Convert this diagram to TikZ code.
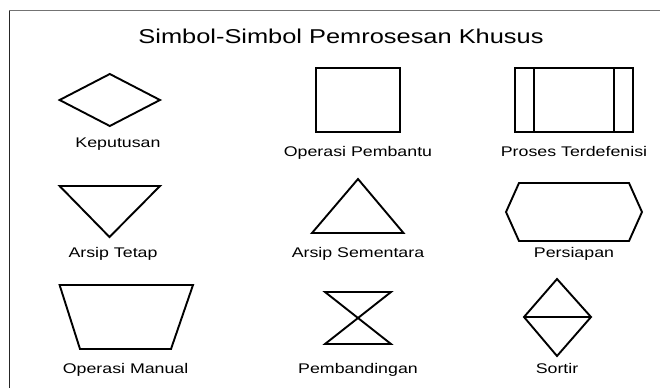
\documentclass[tikz,border=0pt]{standalone}
\usepackage{fontspec}
\setmainfont[FakeStretch=1.27]{Liberation Sans}
\begin{document}
\begin{tikzpicture}[x=1pt,y=-1pt,
  sym/.style={draw=black,line width=1.9pt,line join=miter},
  lbl/.style={anchor=base,inner sep=0pt,font=\fontsize{14}{16}\selectfont},
  ttl/.style={anchor=base,inner sep=0pt,font=\fontsize{20}{22}\selectfont},
  frmtop/.style={draw=black!55,line width=1pt},
  frmleft/.style={draw=black!85,line width=1pt}]
\useasboundingbox (0,0) rectangle (660,388);
% frame
\draw[frmleft] (9,388) -- (9,10);
\draw[frmtop] (9,10) -- (660,10);
% title
\node[ttl] (title) at (341,43) {Simbol-Simbol Pemrosesan Khusus};
% row 1
\draw[sym] (59.6,100) -- (109.8,74) -- (160,100) -- (109.8,126) -- cycle;
\node[lbl] (keputusan) at (118,147) {Keputusan};
\draw[sym] (316,68) rectangle (400,132);
\node[lbl] (opb) at (358,156) {Operasi Pembantu};
\draw[sym] (515,68) rectangle (633,132);
\draw[sym] (534,68) -- (534,132);
\draw[sym] (614,68) -- (614,132);
\node[lbl] (proses) at (574,156) {Proses Terdefenisi};
% row 2
\draw[sym] (59.6,186) -- (160,186) -- (109.5,237) -- cycle;
\node[lbl] (tetap) at (113,257) {Arsip Tetap};
\draw[sym] (358,179) -- (403.5,233) -- (312,233) -- cycle;
\node[lbl] (sementara) at (358,257) {Arsip Sementara};
\draw[sym] (519,183) -- (629,183) -- (642,212) -- (629,241) -- (519,241) -- (506,212) -- cycle;
\node[lbl] (persiapan) at (574,257) {Persiapan};
% row 3
\draw[sym] (59.6,285) -- (193,285) -- (171,349) -- (80,349) -- cycle;
\node[lbl] (manual) at (125.6,373) {Operasi Manual};
\draw[sym] (325,292) -- (391,292) -- (325,344) -- (391,344) -- cycle;
\node[lbl] (banding) at (358,373) {Pembandingan};
\draw[sym] (557,279) -- (591,317) -- (557,356) -- (524,317) -- cycle;
\draw[sym] (524,317) -- (591,317);
\node[lbl] (sortir) at (557,373) {Sortir};
\end{tikzpicture}
\end{document}
